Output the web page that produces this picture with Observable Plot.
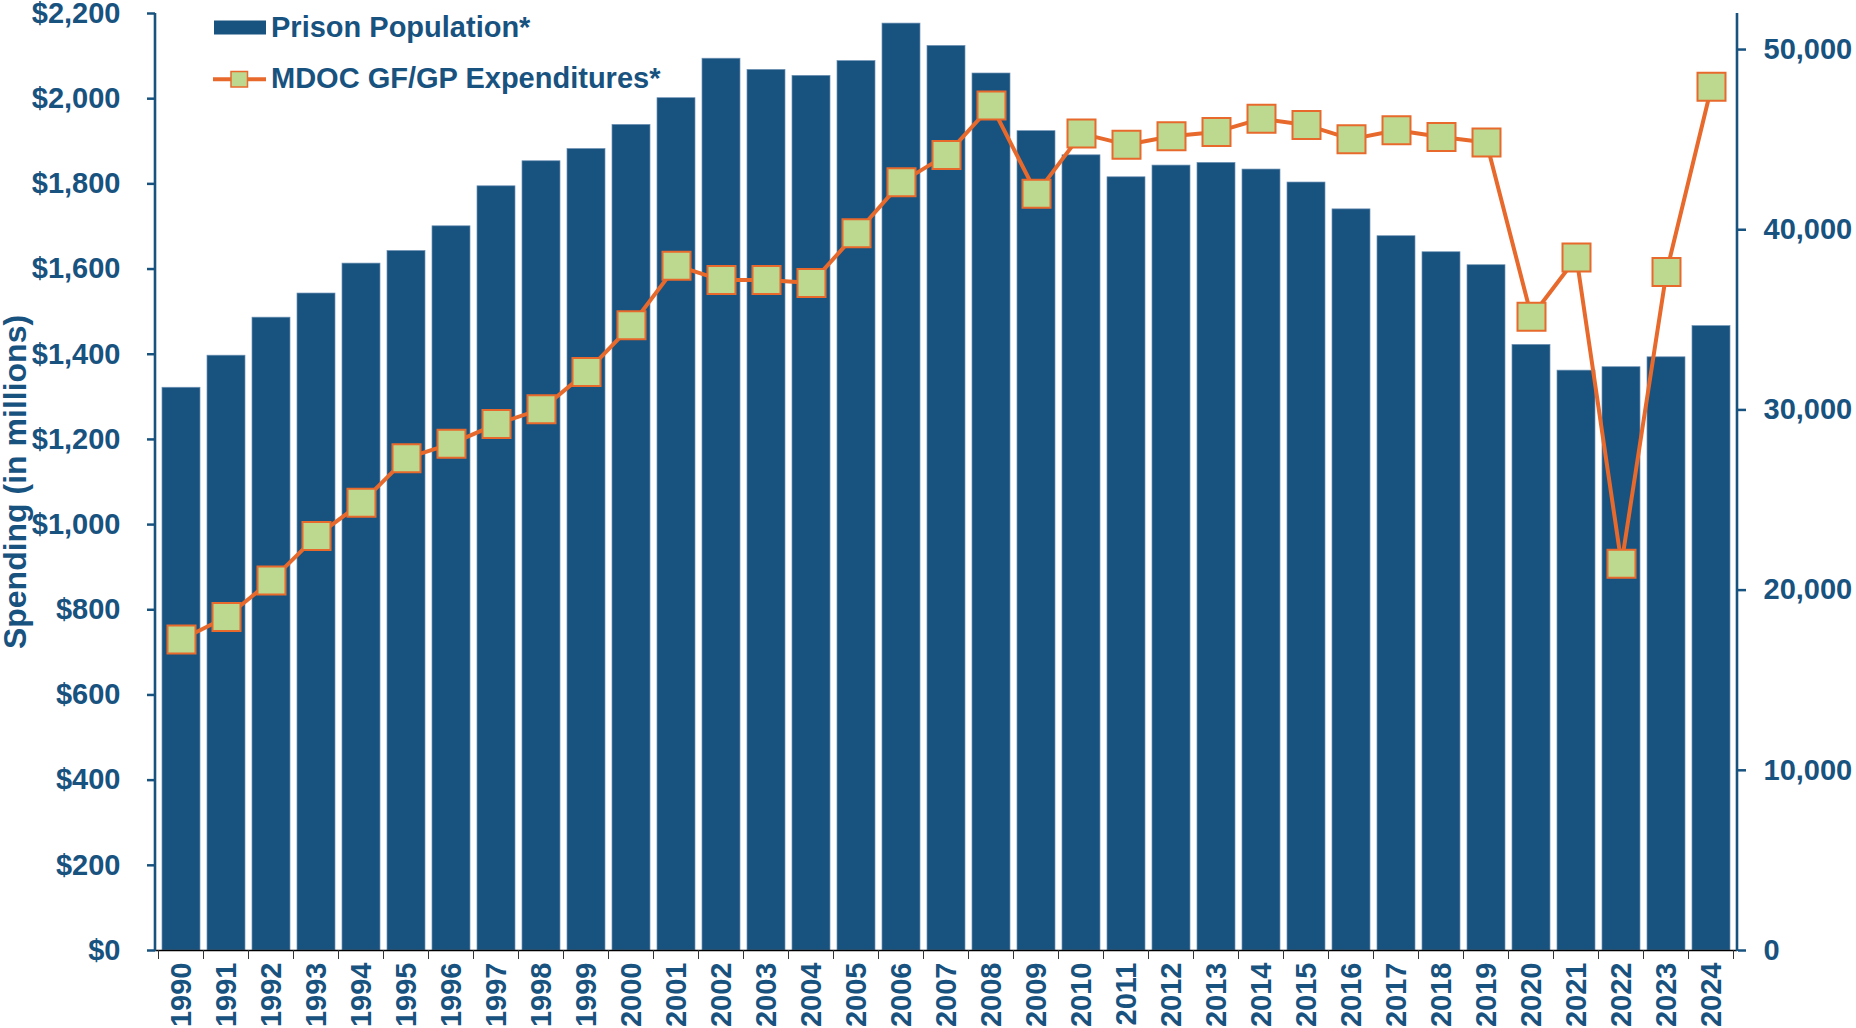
<!DOCTYPE html>
<html><head><meta charset="utf-8">
<script src="https://cdn.jsdelivr.net/npm/d3@7"></script>
<script src="https://cdn.jsdelivr.net/npm/@observablehq/plot@0.6"></script>
<style>
html,body{margin:0;padding:0;background:#fff;}
#wrap{width:1856px;height:1028px;overflow:hidden;}
</style></head><body><div id="wrap"></div>
<script>
// ---- data ----
const years = [1990,1991,1992,1993,1994,1995,1996,1997,1998,1999,2000,2001,2002,2003,2004,2005,2006,2007,2008,2009,2010,2011,2012,2013,2014,2015,2016,2017,2018,2019,2020,2021,2022,2023,2024];
const prisonPopulation = [31230,33010,35120,36460,38120,38820,40190,42410,43800,44480,45820,47300,49490,48870,48540,49360,51440,50200,48670,45470,44130,42910,43560,43710,43340,42620,41130,39640,38750,38030,33610,32180,32370,32920,34650];
const spendingMillions = [730,783,869,973,1051,1156,1190,1236,1271,1358,1468,1608,1574,1574,1567,1684,1804,1868,1984,1777,1918,1892,1912,1922,1953,1938,1905,1926,1910,1897,1488,1627,908,1593,2028];
const leftTicks = [0,200,400,600,800,1000,1200,1400,1600,1800,2000,2200];
const rightTicks = [0,10000,20000,30000,40000,50000];
const leftMax = 2200, rightMax = 52000;
const seriesNames = ["Prison Population*", "MDOC GF/GP Expenditures*"];
const yTitle = "Spending (in millions)";

// ---- styling ----
const blue = "#18527F", orange = "#E8692C", green = "#BCD98F";
const font = '"Liberation Sans", Arial, Helvetica, sans-serif';
const K = leftMax / rightMax;

const data = years.map((y, i) => ({year: String(y), pop: prisonPopulation[i], spend: spendingMillions[i]}));

const chart = Plot.plot({
  width: 1856, height: 1028,
  marginLeft: 155, marginRight: 119, marginTop: 13, marginBottom: 78,
  style: {fontFamily: font, fontWeight: "bold", fontSize: "29px", color: blue, background: "white", overflow: "visible"},
  x: {type: "band", domain: years.map(String), paddingInner: 0.166, paddingOuter: 0.083},
  y: {domain: [0, leftMax]},
  marks: [
    Plot.barY(data, {x: "year", y: d => d.pop * K, fill: blue, stroke: "#6f93b5", strokeWidth: 0.7}),
    Plot.ruleY([0], {stroke: "#000", strokeWidth: 1.3}),
    Plot.line(data, {x: "year", y: "spend", stroke: orange, strokeWidth: 4}),
    Plot.dot(data, {x: "year", y: "spend", symbol: "square", r: 15.8, fill: green, fillOpacity: 1, stroke: orange, strokeWidth: 2}),
    Plot.axisX({tickSize: 0, tickPadding: 12, tickRotate: -90, fontSize: 29, label: null}),
    Plot.axisY({anchor: "left", ticks: leftTicks, tickFormat: d => "$" + d3.format(",")(d), tickSize: 8, tickPadding: 27, strokeWidth: 2.5, fontSize: 29, label: null}),
    Plot.axisY({anchor: "left", ticks: [], tickSize: 0, label: yTitle, labelAnchor: "center", labelOffset: 152, labelArrow: "none", fontSize: 32}),
    Plot.axisY({anchor: "right", ticks: rightTicks.map(v => v * K), tickFormat: v => d3.format(",")(Math.round(v / K)), tickSize: 8, tickPadding: 18, strokeWidth: 2.5, fontSize: 29, label: null})
  ]
});
document.getElementById("wrap").appendChild(chart);

// ---- axis lines, band-edge ticks and legend ----
const svg = d3.select(chart.tagName.toLowerCase() === "svg" ? chart : chart.querySelector("svg"));
const xs = chart.scale("x"), ys = chart.scale("y");
const [y0, y1] = ys.range;
const [xL, xR] = xs.range;
const g = svg.append("g");
// band edge ticks on x axis
const edges = years.map(y => xs.apply(String(y)) - (xs.step - xs.bandwidth) / 2);
edges.push(edges[edges.length - 1] + xs.step);
g.selectAll("line.edge").data(edges).join("line")
  .attr("x1", d => d).attr("x2", d => d).attr("y1", y0).attr("y2", y0 + 9)
  .attr("stroke", "#333").attr("stroke-width", 1);
// vertical axis lines
[xL, xR].forEach(x => g.append("line").attr("x1", x).attr("x2", x).attr("y1", y1).attr("y2", y0 + 1)
  .attr("stroke", blue).attr("stroke-width", 2.6));

// legend
const lg = svg.append("g").attr("font-family", font).attr("font-weight", "bold").attr("font-size", 29)
  .attr("fill", blue).attr("text-anchor", "start").style("text-anchor", "start");
lg.append("rect").attr("x", 214).attr("y", 20.5).attr("width", 52).attr("height", 14).attr("fill", blue);
lg.append("text").attr("x", 271).attr("y", 36.5).text(seriesNames[0]);
lg.append("line").attr("x1", 213).attr("x2", 266).attr("y1", 79.3).attr("y2", 79.3).attr("stroke", orange).attr("stroke-width", 4);
lg.append("rect").attr("x", 231).attr("y", 71.5).attr("width", 16.5).attr("height", 15.5).attr("fill", green).attr("stroke", orange).attr("stroke-width", 1.5);
lg.append("text").attr("x", 271).attr("y", 88).text(seriesNames[1]);
</script></body></html>
